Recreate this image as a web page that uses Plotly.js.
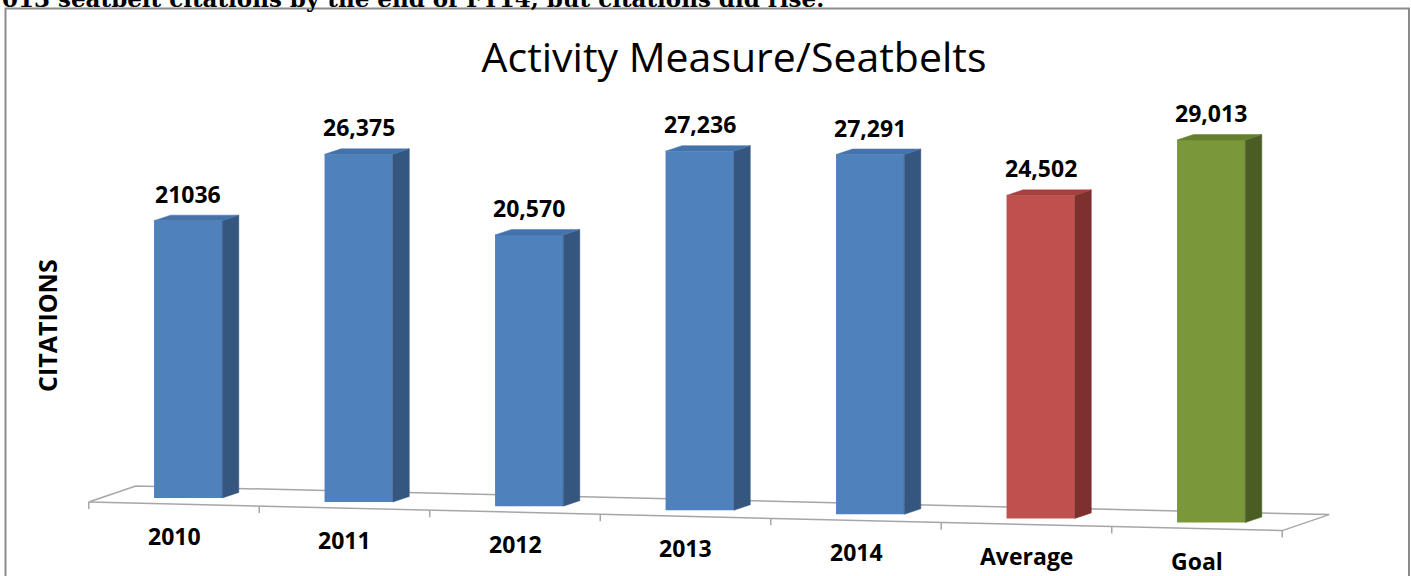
<!DOCTYPE html>
<html>
<head>
<meta charset="utf-8">
<script src="https://cdn.plot.ly/plotly-3.0.1.min.js"></script>
<style>
  html, body { margin: 0; padding: 0; background: #ffffff; }
  #chart { width: 1411px; height: 576px; }
</style>
</head>
<body>
<div id="chart"></div>
<script>
// ---- data ----
const categories = ["2010", "2011", "2012", "2013", "2014", "Average", "Goal"];
const citations = [21036, 26375, 20570, 27236, 27291, 24502, 29013];
const valueLabels = ["21036", "26,375", "20,570", "27,236", "27,291", "24,502", "29,013"];
const chartTitle = "Activity Measure/Seatbelts";
const yTitle = "CITATIONS";
const captionText = "013 seatbelt citations by the end of FY14, but citations did rise.";

// ---- style ----
const W = 1411, H = 576;
const pxPerX = 170.5, x0px = 174;        // x data unit -> pixels
const unitsPerPx = 75.85, y0px = 498;     // y data unit -> pixels
const tilt = 310;                         // floor slope per category (perspective)
const barOffset = 0.083, barWidth = 0.4;
const depthX = 0.097, depthY = 420;       // 3D depth of bars
const faceColors = [
  {front: "#4F81BD", side: "#34567F", top: "#4472AA"},
  {front: "#4F81BD", side: "#34567F", top: "#4472AA"},
  {front: "#4F81BD", side: "#34567F", top: "#4472AA"},
  {front: "#4F81BD", side: "#34567F", top: "#4472AA"},
  {front: "#4F81BD", side: "#34567F", top: "#4472AA"},
  {front: "#C0504D", side: "#7D302E", top: "#A6413E"},
  {front: "#7A983A", side: "#4A5E24", top: "#64802F"}
];
const font = "'Open Sans', 'Liberation Sans', sans-serif";

const xRange = [-x0px / pxPerX, (W - x0px) / pxPerX];
const yRange = [-(H - y0px) * unitsPerPx, y0px * unitsPerPx];
const py = p => p * unitsPerPx;  // pixels -> y units

const n = categories.length;
const idx = categories.map((_, i) => i);
const bases = idx.map(i => -tilt * i);

const traces = [];
// side & top faces
idx.forEach(i => {
  const xl = i + barOffset - barWidth / 2, xr = i + barOffset + barWidth / 2;
  const b = bases[i], t = bases[i] + citations[i];
  const c = faceColors[i];
  traces.push({
    type: "scatter", mode: "lines", fill: "toself", hoverinfo: "skip",
    x: [xr, xr, xr + depthX, xr + depthX, xr],
    y: [b, t, t + depthY, b + depthY, b],
    line: {width: 0.5, color: c.side}, fillcolor: c.side, showlegend: false
  });
  traces.push({
    type: "scatter", mode: "lines", fill: "toself", hoverinfo: "skip",
    x: [xl, xr, xr + depthX, xl + depthX, xl],
    y: [t, t, t + depthY, t + depthY, t],
    line: {width: 0.5, color: c.top}, fillcolor: c.top, showlegend: false
  });
});
// front faces
traces.push({
  type: "bar",
  x: idx.map(i => i + barOffset),
  y: citations,
  base: bases,
  width: barWidth,
  marker: {color: faceColors.map(c => c.front), line: {width: 0}},
  hoverinfo: "skip",
  showlegend: false
});

// floor (shapes below traces)
const frontY = x => -py(4) - tilt * (x + 0.5);
const floorDX = 47 / pxPerX, floorDY = py(16);
const xa = -0.5, xb = n - 0.5;
const floorPath = `M ${xa},${frontY(xa)} L ${xb},${frontY(xb)} L ${xb + floorDX},${frontY(xb) + floorDY} L ${xa + floorDX},${frontY(xa) + floorDY} Z`;
const shapes = [{
  type: "path", xref: "x", yref: "y", path: floorPath, layer: "below",
  line: {color: "#A6A6A6", width: 1.5}, fillcolor: "rgba(0,0,0,0)"
}];
for (let k = 0; k <= n; k++) {
  const xt = -0.5 + k;
  shapes.push({
    type: "line", xref: "x", yref: "y", layer: "below",
    x0: xt, x1: xt, y0: frontY(xt), y1: frontY(xt) - py(7),
    line: {color: "#A6A6A6", width: 1.5}
  });
}
// outer frame
shapes.push({
  type: "rect", xref: "paper", yref: "paper",
  x0: 5.5 / W, x1: 1409 / W, y0: -0.2, y1: 1 - 8.5 / H,
  line: {color: "#8C8C8C", width: 2}, fillcolor: "rgba(0,0,0,0)"
});

const annotations = [];
idx.forEach(i => {
  annotations.push({
    xref: "x", yref: "y", x: i + barOffset, y: bases[i] + citations[i],
    text: "<b>" + valueLabels[i] + "</b>", showarrow: false,
    xanchor: "center", yanchor: "bottom", yshift: 9,
    font: {family: font, size: 23, color: "#000000"}
  });
  annotations.push({
    xref: "x", yref: "y", x: i, y: frontY(i),
    text: "<b>" + categories[i] + "</b>", showarrow: false,
    xanchor: "center", yanchor: "middle", yshift: -32,
    font: {family: font, size: 23, color: "#000000"}
  });
});
annotations.push({
  xref: "paper", yref: "paper", x: 47 / W, y: 1 - 325 / H,
  text: "<b>" + yTitle + "</b>", showarrow: false, textangle: -90,
  xanchor: "center", yanchor: "middle",
  font: {family: font, size: 25, color: "#000000"}
});
annotations.push({
  xref: "paper", yref: "paper", x: 0, y: 1 + 1 / H,
  text: "<b>" + captionText + "</b>", showarrow: false,
  xanchor: "left", yanchor: "middle",
  font: {family: "'DejaVu Serif', 'Liberation Serif', serif", size: 23, color: "#000000"}
});

const layout = {
  width: W, height: H,
  margin: {l: 0, r: 0, t: 0, b: 0, pad: 0},
  paper_bgcolor: "#ffffff", plot_bgcolor: "#ffffff",
  title: {
    text: chartTitle, x: 734 / W, xanchor: "center", y: 1 - 58 / H, yanchor: "middle",
    xref: "paper", yref: "container",
    font: {family: font, size: 41, color: "#000000"}
  },
  xaxis: {range: xRange, visible: false, fixedrange: true},
  yaxis: {range: yRange, visible: false, fixedrange: true},
  showlegend: false,
  shapes: shapes,
  annotations: annotations
};

Plotly.newPlot("chart", traces, layout, {staticPlot: true, displayModeBar: false});
</script>
</body>
</html>
